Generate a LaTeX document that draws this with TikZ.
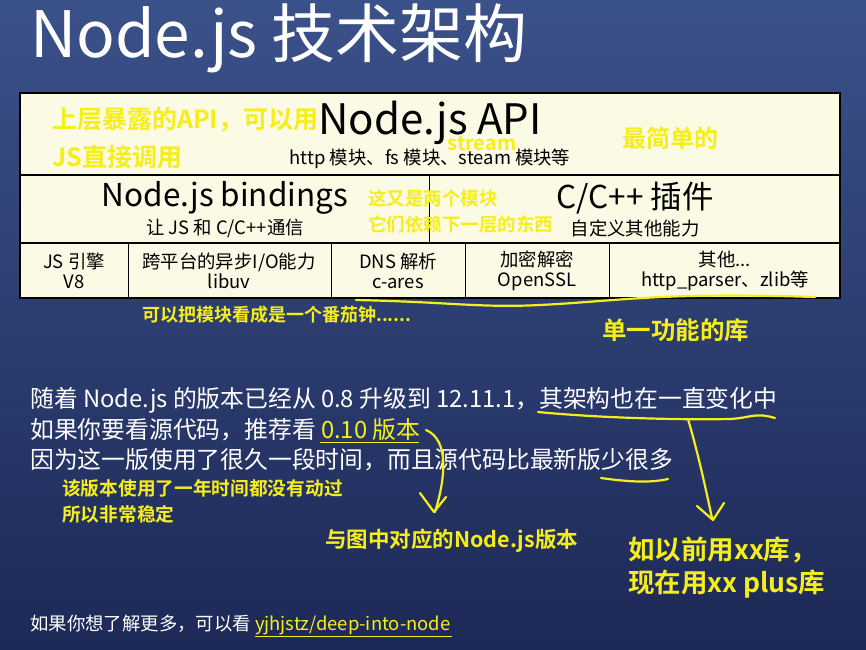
\documentclass[tikz,border=0pt]{standalone}
\usepackage{fontspec}
\setmainfont{Noto Sans CJK SC}
\newfontfamily\notebold{Noto Sans CJK SC Bold}
\usetikzlibrary{positioning}
\definecolor{slidetop}{HTML}{3B5189}
\definecolor{slidebot}{HTML}{1D2957}
\definecolor{cream}{HTML}{FBFAE4}
\definecolor{marker}{HTML}{F6EE1A}
\newcommand{\fs}[1]{\fontsize{#1}{#1}\selectfont}
\tikzset{
  cell/.style={inner sep=0pt, align=center, text=black},
  note/.style={inner sep=0pt, text=marker, font=\notebold},
  plain/.style={inner sep=0pt, anchor=west, text=white, font=\fs{23.8}},
  pen/.style={draw=marker, line width=2.2pt, line cap=round, line join=round},
}
\begin{document}
\begin{tikzpicture}[x=1pt,y=-1pt]
  \shade[top color=slidetop, bottom color=slidebot] (0,0) rectangle (866,649);
  \useasboundingbox (0,0) rectangle (866,649);
  \node[plain, font=\fs{64}] (title) at (30,38) {Node.js 技术架构};
  % table
  \filldraw[fill=cream, draw=black, line width=1.2pt] (20,93) rectangle (840,298);
  \draw[line width=1.2pt] (20,175) -- (840,175) (20,243) -- (840,243);
  \draw[line width=0.8pt] (429,175) -- (429,243);
  \foreach \x in {128,331,465,609}
    \draw[line width=0.8pt] (\x,243) -- (\x,298);
  %
  \node[cell, font=\fs{42}] (api) at (430,123) {Node.js API};
  \node[cell, font=\fs{18.4}] (apisub) at (430,159) {http 模块、fs 模块、steam 模块等};
  \node[cell, font=\fs{31.5}] (bind) at (225,198) {Node.js bindings};
  \node[cell, font=\fs{18.4}] (bindsub) at (225,228) {让 JS 和 C/C++通信};
  \node[cell, font=\fs{31.5}] (addon) at (635,198) {C/C++ 插件};
  \node[cell, font=\fs{18.4}] (addonsub) at (635,228) {自定义其他能力};
  %
  \node[cell, font=\fs{18.4}] (v8) at (74,271) {JS 引擎\\[2pt]V8};
  \node[cell, font=\fs{18.4}] (libuv) at (229,271) {跨平台的异步I/O能力\\[2pt]libuv};
  \node[cell, font=\fs{18.4}] (cares) at (398,271) {DNS 解析\\[2pt]c-ares};
  \node[cell, font=\fs{18.4}] (ssl) at (537,271) {加密解密\\[2pt]OpenSSL};
  \node[cell, font=\fs{18.4}] (other) at (725,271) {其他...\\[2pt]http\_parser、zlib等};
  % notes in the table
  \node[note, anchor=west, font=\notebold\fs{25}] (n1) at (52,120) {上层暴露的API，可以用};
  \node[note, anchor=west, font=\notebold\fs{25}] (n2) at (52,157) {JS直接调用};
  \node[note, font=\notebold\fs{20}] (n3) at (482,144) {stream};
  \node[note, anchor=west, font=\notebold\fs{24}] (n4) at (622,138) {最简单的};
  \node[note, anchor=west, font=\notebold\fs{18.5}] (n5) at (368,198) {这又是两个模块};
  \node[note, anchor=west, font=\notebold\fs{18.5}] (n6) at (368,224) {它们依赖下一层的东西};
  \node[note, anchor=west, font=\notebold\fs{18}] (n7) at (142,315) {可以把模块看成是一个番茄钟......};
  \node[note, anchor=west, font=\notebold\fs{24.5}] (n8) at (602,330) {单一功能的库};
  \draw[pen] (356,300) .. controls (450,302) and (480,308) .. (540,305)
    .. controls (620,301) and (660,292) .. (815,297);
  % text below
  \node[plain] (l1) at (30,400) {随着 Node.js 的版本已经从 0.8 升级到 12.11.1，其架构也在一直变化中};
  \node[plain] (l2) at (30,430) {如果你要看源代码，推荐看 \textcolor{marker}{0.10 版本}};
  \draw[marker, line width=0.8pt] (320,442) -- (419,442);
  \node[plain] (l3) at (30,460) {因为这一版使用了很久一段时间，而且源代码比最新版少很多};
  \node[note, anchor=west, font=\notebold\fs{18.7}] (n9) at (62,488) {该版本使用了一年时间都没有动过};
  \node[note, anchor=west, font=\notebold\fs{18.7}] (n10) at (62,514) {所以非常稳定};
  \node[note, anchor=west, font=\notebold\fs{21.5}] (n11) at (325,541) {与图中对应的Node.js版本};
  \node[note, anchor=west, font=\notebold\fs{26.5}] (n12) at (628,550) {如以前用xx库，};
  \node[note, anchor=west, font=\notebold\fs{26.5}] (n13) at (628,584) {现在用xx plus库};
  \node[plain, font=\fs{18.4}] (l4) at (30,625) {如果你想了解更多，可以看 \textcolor{marker}{yjhjstz/deep-into-node}};
  \draw[marker, line width=0.8pt] (255,636) -- (452,636);
  % hand strokes
  \draw[pen] (538,412) .. controls (600,418) and (680,420) .. (730,419)
    .. controls (750,418) and (755,412) .. (775,418);
  \draw[pen] (688,419) .. controls (700,460) and (708,500) .. (712,518);
  \draw[pen] (697,506) -- (713,520) -- (724,503);
  \draw[pen] (426,430) .. controls (450,440) and (445,480) .. (435,512);
  \draw[pen] (420,493) -- (434,512) -- (446,497);
  \draw[pen] (601,478) .. controls (630,482) and (650,483) .. (668,479);
\end{tikzpicture}
\end{document}
